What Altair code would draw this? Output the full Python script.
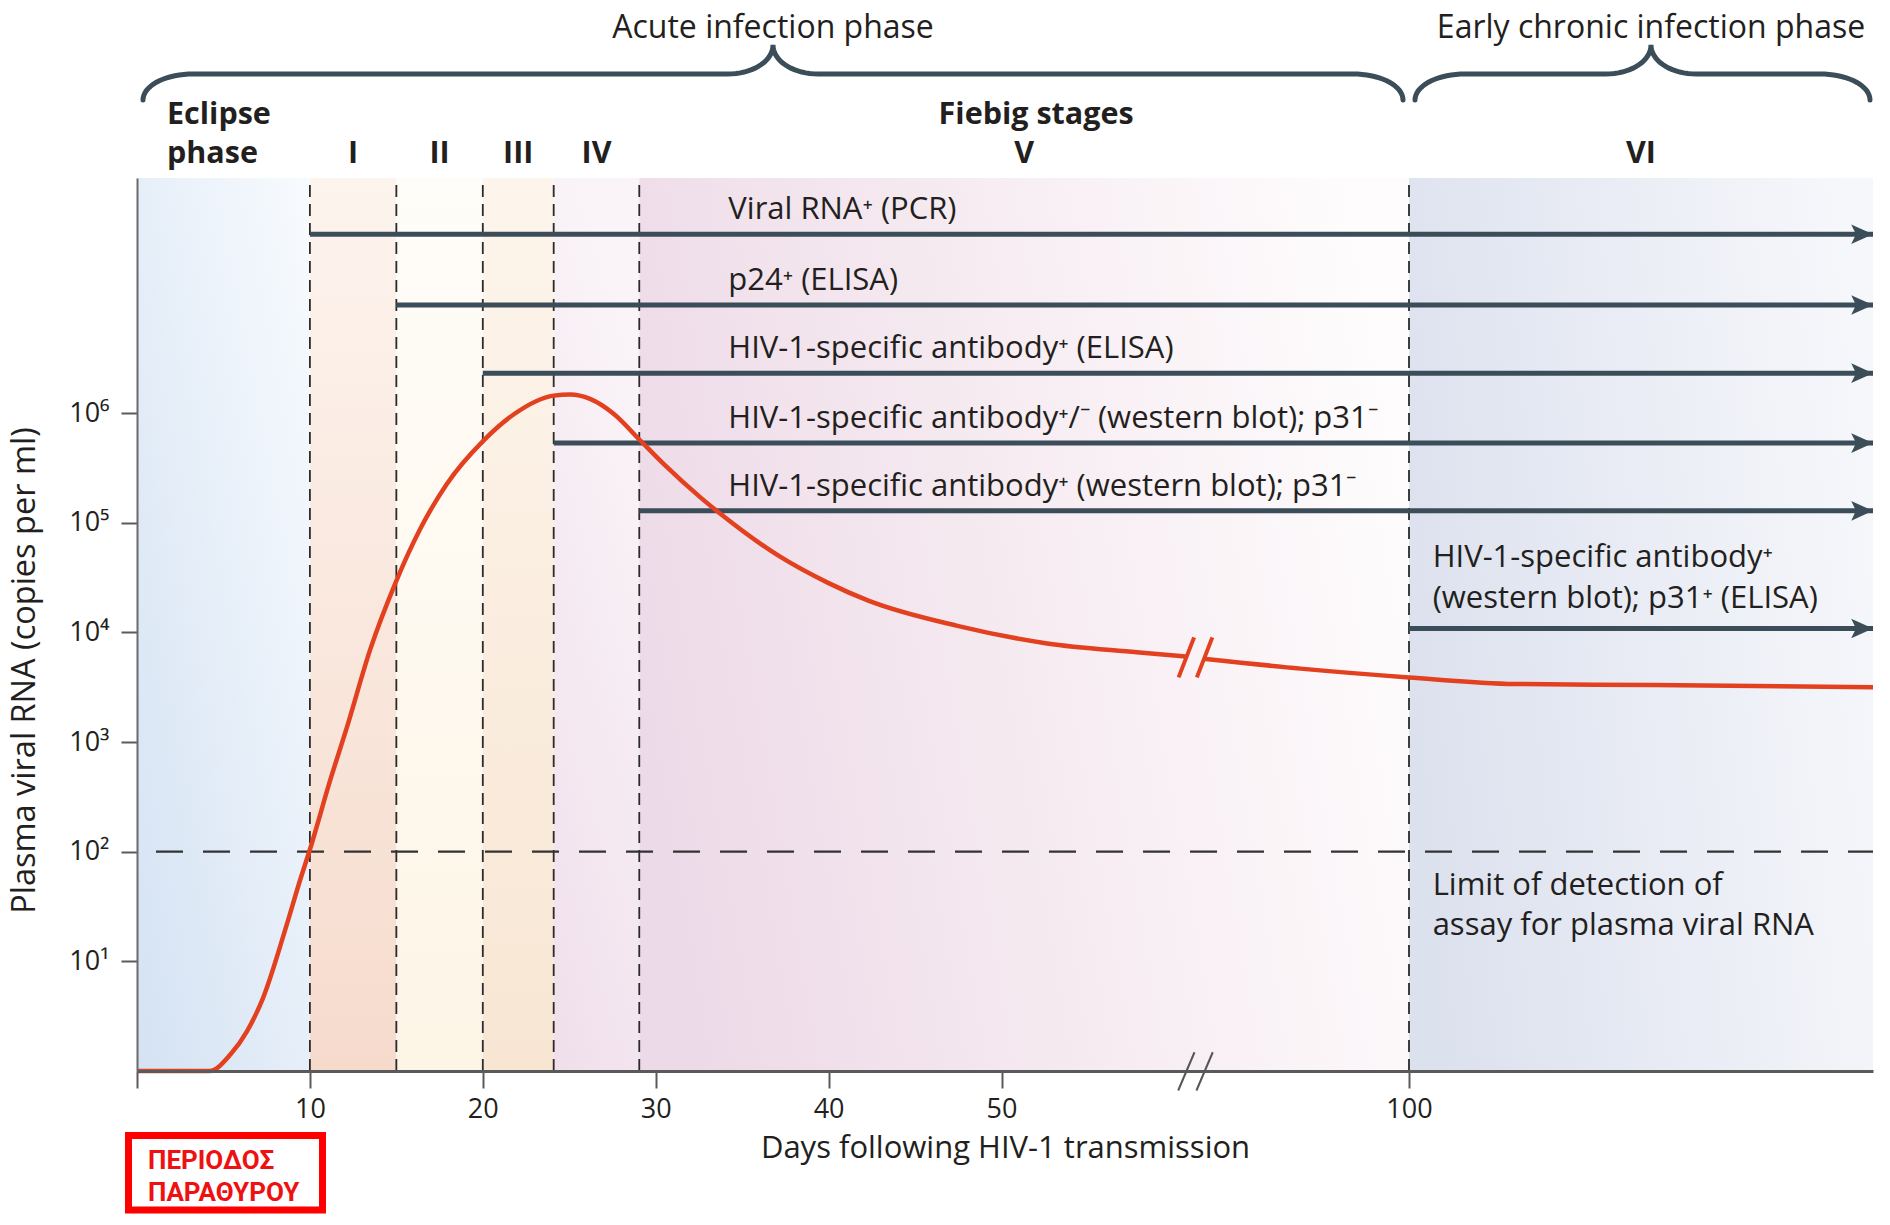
import altair as alt
import numpy as np
import pandas as pd

FONT = "Open Sans"
INK = "#231f20"
ARROW = "#3b4d58"
RED = "#e2401f"

# ---------------- scales / layout ----------------
W = 1736          # plot width
H = 893           # plot height
HEAD_H = 169      # header band above the plot
X_DOMAIN = [0, 50, 100, 156.9]        # axis break between day 50 and day 100
X_RANGE = [0, 864.5, 1272, W]
Y_MIN, Y_MAX = 1, 10 ** 8.145

# ---------------- data ----------------
stage_labels = ["Eclipse phase", "I", "II", "III", "IV", "V", "VI"]
stage_start = [0, 10, 15, 20, 24.1, 29.05, 100]
stage_end = [10, 15, 20, 24.1, 29.05, 100, 156.9]

phase_labels = ["Acute infection phase", "Early chronic infection phase"]
phase_start = [0, 100]
phase_end = [100, 156.9]

# plasma viral RNA curve (days, log10 copies per ml), two pieces around the axis break
curve_days_a = [0, 4.2, 5.4, 6.35, 7.3, 8.67, 9.43, 10, 11.17, 12.13, 13.5, 14.97, 16.4,
                17.9, 20.04, 21.8, 24.1, 25.06, 26.2, 27.6, 29.05, 30.5, 32.6, 33.76,
                37.1, 40, 42.3, 47.45, 55.6, 66.6, 72.6]
curve_log_a = [0, 0, 0.15, 0.36, 0.67, 1.34, 1.74, 2.02, 2.65, 3.13, 3.85, 4.46, 4.95,
               5.35, 5.75, 5.99, 6.16, 6.17, 6.13, 5.99, 5.76, 5.53, 5.23, 5.08,
               4.70, 4.45, 4.29, 4.06, 3.90, 3.82, 3.78]
curve_days_b = [74.8, 86.7, 100, 113, 130, 156.9]
curve_log_b = [3.76, 3.67, 3.59, 3.53, 3.52, 3.50]

assay_labels = ["Viral RNA⁺ (PCR)",
                "p24⁺ (ELISA)",
                "HIV-1-specific antibody⁺ (ELISA)",
                "HIV-1-specific antibody⁺/⁻ (western blot); p31⁻",
                "HIV-1-specific antibody⁺ (western blot); p31⁻",
                "HIV-1-specific antibody⁺\n(western blot); p31⁺ (ELISA)"]
assay_start = [10, 15, 20, 24.1, 29.05, 100]
assay_level = [7.632, 6.987, 6.365, 5.727, 5.109, 4.036]   # log10 row of each arrow

lod_value = 100
lod_label = ["Limit of detection of", "assay for plasma viral RNA"]
box_label = ["ΠΕΡΙΟΔΟΣ", "ΠΑΡΑΘΥΡΟΥ"]

x_ticks = [0, 10, 20, 30, 40, 50, 100]
y_ticks = [10, 100, 1000, 10000, 100000, 1000000]

# ---------------- helpers ----------------
def px_at(day):
    return float(np.interp(day, X_DOMAIN, X_RANGE))

def day_at(px):
    return float(np.interp(px, X_RANGE, X_DOMAIN))

END = X_DOMAIN[-1]
LABEL_DAY = 34.2
SIDE_DAY = 102.9
LOD_START = 1.1
BREAK_DAY = 73.8

XS = alt.Scale(domain=X_DOMAIN, range=X_RANGE, nice=False)
YS = alt.Scale(type="log", domain=[Y_MIN, Y_MAX], nice=False)
HY = alt.Scale(domain=[0, HEAD_H], reverse=True, nice=False, zero=False)

x_axis = alt.Axis(values=x_ticks, labelExpr="datum.value == 0 ? '' : datum.label",
                  title="Days following HIV-1 transmission", titleFont=FONT, titleFontSize=31,
                  titleFontWeight="normal", titleColor=INK, titlePadding=11,
                  labelFont=FONT, labelFontSize=27, labelColor=INK, labelPadding=8,
                  tickSize=17, tickWidth=2, tickColor="#5a5a5a",
                  domainColor="#5a5a5a", domainWidth=3, grid=False, zindex=1)
y_axis = alt.Axis(values=y_ticks,
                  labelExpr="'10' + ['⁰','¹','²','³','⁴','⁵','⁶'][round(log(datum.value)/LN10)]",
                  title="Plasma viral RNA (copies per ml)", titleFont=FONT, titleFontSize=32.5,
                  titleFontWeight="normal", titleColor=INK, titlePadding=27, titleY=492,
                  labelFont=FONT, labelFontSize=27, labelColor=INK, labelPadding=12,
                  tickSize=16, tickWidth=2, tickColor="#5a5a5a",
                  domainColor="#6a6a6a", domainWidth=2, grid=False, zindex=1)

def X(f):
    return alt.X(f, type="quantitative", scale=XS, axis=x_axis, title=x_axis.title)

def Y(f):
    return alt.Y(f, type="quantitative", scale=YS, axis=y_axis, title=y_axis.title)

# ---------------- background gradients ----------------
STAGE_FILLS = [
    dict(stops=["#d4e2f3", "#f8fbfe"], v=(0, 1, 1, 0)),
    dict(stops=["#f6dbcd", "#fdf4ee"], v=(0, 1, 0, 0)),
    dict(stops=["#fdf5e6", "#fffdf9"], v=(0, 1, 0, 0)),
    dict(stops=["#f8e6d3", "#fdf5ec"], v=(0, 1, 0, 0)),
    dict(stops=["#f0dfeb", "#faf4f8"], v=(0, 1, 0.3, 0)),
    dict(stops=["#eddae8", "#f6ebf1", "#fefcfd"], v=(0, 0.6, 1, 0.4)),
    dict(stops=["#dce1ee", "#f6f7fb"], v=(0, 0.6, 1, 0.4)),
]

stages = pd.DataFrame({"stage": stage_labels, "start": stage_start, "end": stage_end})
stages["ylo"] = Y_MIN
stages["yhi"] = Y_MAX

layers = []
for i in range(len(stages)):
    f = STAGE_FILLS[i]
    n = len(f["stops"])
    grad = alt.Gradient(
        gradient="linear",
        stops=[alt.GradientStop(color=c, offset=k / (n - 1)) for k, c in enumerate(f["stops"])],
        x1=f["v"][0], y1=f["v"][1], x2=f["v"][2], y2=f["v"][3])
    layers.append(
        alt.Chart(stages.iloc[[i]]).mark_rect(fill=grad, strokeWidth=0).encode(
            x=X("start"), x2="end", y=Y("ylo"), y2="yhi"))

# stage boundaries
bounds = pd.DataFrame({"day": stage_start[1:]})
bounds["ylo"] = Y_MIN
bounds["yhi"] = Y_MAX
layers.append(alt.Chart(bounds).mark_rule(color="#2b2b2b", strokeWidth=1.8, strokeDash=[12, 7]).encode(
    x=X("day"), y=Y("ylo"), y2="yhi"))

# limit of detection
lod = pd.DataFrame({"x0": [LOD_START], "x1": [END], "v": [lod_value]})
layers.append(alt.Chart(lod).mark_rule(color="#333333", strokeWidth=2.2, strokeDash=[27, 20]).encode(
    x=X("x0"), x2="x1", y=Y("v")))

# assay arrows
arrows = pd.DataFrame({"start": assay_start, "level": [10 ** v for v in assay_level],
                       "label": assay_labels})
arrows["end"] = END
arrows["lx"] = [LABEL_DAY] * 5 + [SIDE_DAY]
layers.append(alt.Chart(arrows).mark_rule(color=ARROW, strokeWidth=5).encode(
    x=X("start"), x2="end", y=Y("level")))
layers.append(alt.Chart(arrows).mark_point(
    shape="M0,0 L-1,-0.45 L-0.78,0 L-1,0.45 Z", size=1900, filled=True, opacity=1,
    color=ARROW, strokeWidth=0).encode(x=X("end"), y=Y("level")))

LBL = 31
single = arrows.iloc[:5]
layers.append(alt.Chart(single).mark_text(align="left", baseline="alphabetic", dy=-15,
    font=FONT, fontSize=LBL, color=INK).encode(x=X("lx"), y=Y("level"), text="label:N"))
side = arrows.iloc[[5]].copy()
side_lines = side["label"].iloc[0].split("\n")
for j, dy in enumerate([-62, -21]):
    d = side.copy()
    d["line"] = side_lines[j]
    layers.append(alt.Chart(d).mark_text(align="left", baseline="alphabetic", dy=dy,
        font=FONT, fontSize=LBL, color=INK).encode(x=X("lx"), y=Y("level"), text="line:N"))

for j, dy in enumerate([43, 83]):
    d = pd.DataFrame({"lx": [SIDE_DAY], "v": [lod_value], "line": [lod_label[j]]})
    layers.append(alt.Chart(d).mark_text(align="left", baseline="alphabetic", dy=dy,
        font=FONT, fontSize=LBL, color=INK).encode(x=X("lx"), y=Y("v"), text="line:N"))

# viral load curve
curve = pd.DataFrame({
    "day": curve_days_a + curve_days_b,
    "log": curve_log_a + curve_log_b,
    "seg": ["a"] * len(curve_days_a) + ["b"] * len(curve_days_b)})
curve["value"] = 10 ** curve["log"]
layers.append(alt.Chart(curve).mark_line(color=RED, strokeWidth=4.5, interpolate="monotone").encode(
    x=X("day"), y=Y("value"), detail="seg:N"))

# break marks (on the curve and on the x axis)
brk = []
for k in (-1, 1):
    mid = BREAK_DAY + k * 1.12
    brk.append(dict(kind="curve", xt=mid + 0.95, xb=mid - 0.95, yt=10 ** 3.955, yb=10 ** 3.59))
    brk.append(dict(kind="axis", xt=mid + 1.0, xb=mid - 1.0, yt=10 ** 0.171, yb=10 ** -0.178))
brk = pd.DataFrame(brk)
layers.append(alt.Chart(brk[brk.kind == "curve"]).mark_rule(color=RED, strokeWidth=4).encode(
    x=X("xt"), x2="xb", y=Y("yt"), y2="yb"))
layers.append(alt.Chart(brk[brk.kind == "axis"]).mark_rule(color="#555555", strokeWidth=2).encode(
    x=X("xt"), x2="xb", y=Y("yt"), y2="yb"))

# red annotation box below the axis
box = pd.DataFrame({"t": [0]})
layers.append(alt.Chart(box).mark_rect(fill="white", stroke="#ff0000", strokeWidth=7).encode(
    x=alt.value(-8.5), x2=alt.value(185.5), y=alt.value(957.5), y2=alt.value(1032)))
for j, yy in enumerate([991, 1023]):
    layers.append(alt.Chart(pd.DataFrame({"t": [box_label[j]]})).mark_text(
        align="left", baseline="alphabetic", font="Roboto", fontWeight="bold",
        fontSize=26, color="#ee1111").encode(x=alt.value(11), y=alt.value(yy), text="t:N"))

NOVIEW = alt.ViewBackground(stroke="transparent", strokeWidth=0)
main = alt.layer(*layers).properties(width=W, height=H, view=NOVIEW)

# ---------------- header band ----------------
def brace(x0, x1, xc, y_end=92, y_bar=66, y_tip=37, curl=50, cusp=45):
    t = np.linspace(0, np.pi / 2, 18)
    pts = [(x0 + curl - curl * np.cos(a), y_end - (y_end - y_bar) * np.sin(a)) for a in t]
    pts += [(xc - cusp + cusp * np.sin(a), y_tip + (y_bar - y_tip) * np.cos(a)) for a in t]
    pts += [(xc + cusp - cusp * np.sin(a), y_tip + (y_bar - y_tip) * np.cos(a)) for a in t[::-1]]
    pts += [(x1 - curl + curl * np.cos(a), y_end - (y_end - y_bar) * np.sin(a)) for a in t[::-1]]
    return pts

INSET = 6
OVERHANG = 14     # the chronic brace runs on past the right edge of the figure
brace_rows, title_rows = [], []
for name, s, e in zip(phase_labels, phase_start, phase_end):
    x0 = px_at(s) + INSET
    x1_full = px_at(e) - INSET + (OVERHANG + INSET if e == END else 0)
    x1 = min(x1_full, W - 3)
    xc = (x0 + x1_full) / 2
    for i, (px, hy) in enumerate(brace(x0, x1, xc)):
        brace_rows.append(dict(phase=name, i=i, day=day_at(px), hy=hy))
    title_rows.append(dict(label=name, day=day_at(xc), hy=29.5))
braces = pd.DataFrame(brace_rows)
titles = pd.DataFrame(title_rows)

HX = lambda f: alt.X(f, type="quantitative", scale=XS, axis=None)
HYc = lambda f: alt.Y(f, type="quantitative", scale=HY, axis=None)

head_layers = [
    alt.Chart(braces).mark_line(color=ARROW, strokeWidth=5, strokeCap="round").encode(
        x=HX("day"), y=HYc("hy"), detail="phase:N", order="i:Q"),
    alt.Chart(titles).mark_text(align="center", baseline="alphabetic", font=FONT,
        fontSize=32, color=INK).encode(x=HX("day"), y=HYc("hy"), text="label:N"),
]

ecl = stage_labels[0].split(" ")
ecl_df = pd.DataFrame({"t": ecl, "day": [day_at(30)] * 2, "hy": [116, 155]})
head_layers.append(alt.Chart(ecl_df).mark_text(align="left", baseline="alphabetic", font=FONT,
    fontSize=30.5, fontWeight="bold", color=INK).encode(x=HX("day"), y=HYc("hy"), text="t:N"))

num_rows = []
for name, s, e in zip(stage_labels[1:], stage_start[1:], stage_end[1:]):
    num_rows.append(dict(t=name, day=day_at((px_at(s) + px_at(e)) / 2), hy=155))
v_px = px_at(num_rows[4]["day"])
num_rows.append(dict(t="Fiebig stages", day=day_at(v_px + 12), hy=116))
nums = pd.DataFrame(num_rows)
head_layers.append(alt.Chart(nums).mark_text(align="center", baseline="alphabetic", font=FONT,
    fontSize=30.5, fontWeight="bold", color=INK).encode(x=HX("day"), y=HYc("hy"), text="t:N"))

header = alt.layer(*head_layers).properties(width=W, height=HEAD_H, view=NOVIEW)

chart = alt.vconcat(header, main, spacing=0).properties(padding=0).configure_view(
    stroke="transparent", strokeWidth=0).configure(background="white")

chart.save("out.html", embed_options={"renderer": "svg", "actions": False})
